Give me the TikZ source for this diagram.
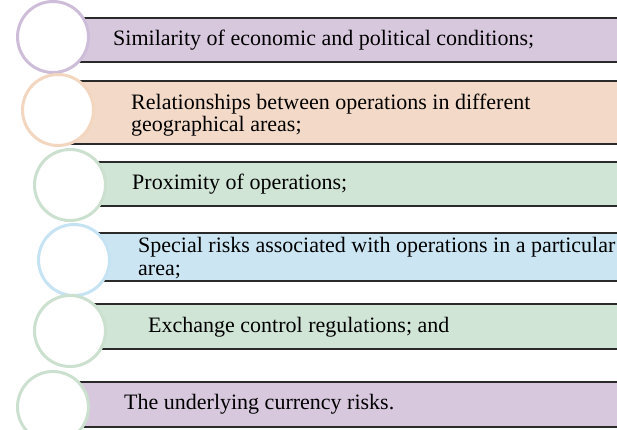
\documentclass[tikz,border=0pt]{standalone}
\usepackage{fontspec}
\setmainfont{Liberation Serif}
\definecolor{purplefill}{HTML}{D8C8DE}
\definecolor{purpleline}{HTML}{CDBDD8}
\definecolor{orangefill}{HTML}{F3D9C7}
\definecolor{orangeline}{HTML}{F3D6BF}
\definecolor{greenfill}{HTML}{D1E5D6}
\definecolor{greenline}{HTML}{CBE0CE}
\definecolor{bluefill}{HTML}{CBE5F3}
\definecolor{blueline}{HTML}{C6E3F3}
\definecolor{barline}{HTML}{2A2A2A}
\tikzset{
  ring/.style={circle, minimum size=71pt, inner sep=0pt, fill=white, line width=3pt},
  itemtext/.style={anchor=west, align=left, font=\fontsize{22}{22.5}\selectfont, text=black, inner sep=0pt},
}
\begin{document}
\begin{tikzpicture}[x=1pt,y=-1pt]
\useasboundingbox (0,0) rectangle (617,430);
\clip (0,0) rectangle (617,430);
% bars
\newcommand{\itembar}[4]{% top, bottom, left, fill
  \fill[#4] (#3,#1) rectangle (625,#2);
  \draw[barline, line width=1.4pt] (#3,#1) -- (625,#1) (#3,#2) -- (625,#2);
}
\itembar{18}{62}{60}{purplefill}
\itembar{81}{144}{60}{orangefill}
\itembar{162}{206}{70}{greenfill}
\itembar{233}{281}{70}{bluefill}
\itembar{304}{349}{70}{greenfill}
\itembar{382}{427}{60}{purplefill}
% circles
\node[ring, draw=purpleline] (c1) at (53,37) {};
\node[ring, draw=orangeline] (c2) at (58,110) {};
\node[ring, draw=greenline] (c3) at (70,185) {};
\node[ring, draw=blueline] (c4) at (74,260) {};
\node[ring, draw=greenline] (c5) at (70,331) {};
\node[ring, draw=greenline] (c6) at (53,407) {};
% texts
\node[itemtext] (t1) at (113,40) {Similarity of economic and political conditions;};
\node[itemtext] (t2) at (131,115) {Relationships between operations in different\\geographical areas;};
\node[itemtext] (t3) at (132,184) {Proximity of operations;};
\node[itemtext] (t4) at (138,258) {Special risks associated with operations in a particular\\area;};
\node[itemtext] (t5) at (148,327) {Exchange control regulations; and};
\node[itemtext] (t6) at (124,404) {The underlying currency risks.};
\end{tikzpicture}
\end{document}
